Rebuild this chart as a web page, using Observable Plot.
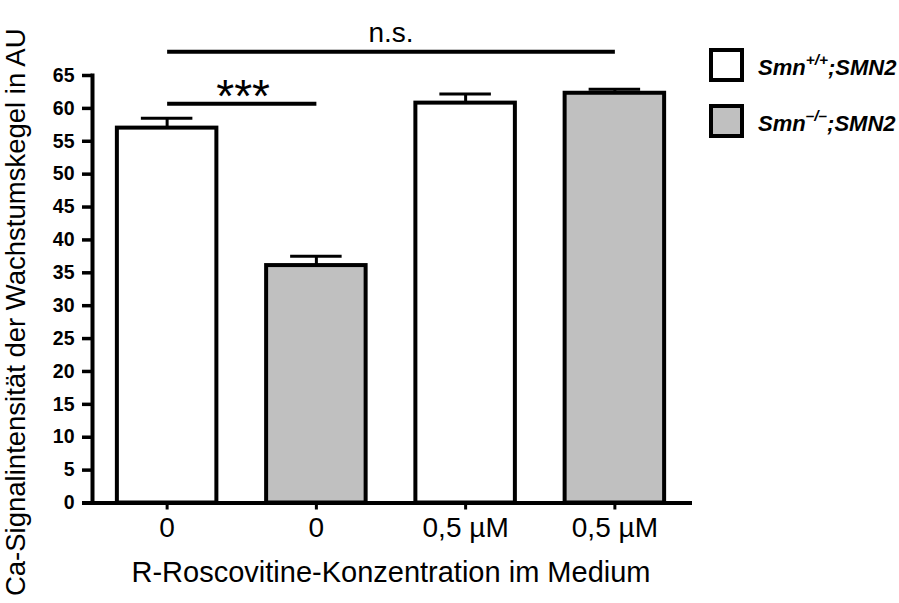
<!DOCTYPE html>
<html>
<head>
<meta charset="utf-8">
<script src="https://cdn.jsdelivr.net/npm/d3@7"></script>
<script src="https://cdn.jsdelivr.net/npm/@observablehq/plot@0.6"></script>
<style>
  body { margin: 0; background: #fff; }
  #chart { position: relative; width: 899px; height: 603px; font-family: "Liberation Sans", Arial, sans-serif; }
  #chart svg { position: absolute; left: 0; top: 0; }
  .legend-swatch { position: absolute; box-sizing: border-box; width: 35px; height: 34px; border: 4px solid #000; }
  .legend-text { position: absolute; font-size: 22px; font-weight: bold; font-style: italic; line-height: 22px; white-space: nowrap; color: #000; }
  .legend-text sup { font-size: 0.7em; position: relative; top: -0.1em; vertical-align: super; line-height: 0; }
</style>
</head>
<body>
<div id="chart"></div>
<script>
// Groups: genotype x R-Roscovitine dose
const groups = ["wt-0", "ko-0", "wt-0.5", "ko-0.5"];
const doseLabels = ["0", "0", "0,5 µM", "0,5 µM"];
const genotypeOf = ["wt", "ko", "wt", "ko"];
const means = [57.0, 36.1, 60.8, 62.3];
const sem = [1.5, 1.4, 1.4, 0.6];

// Genotype legend
const genotypes = ["wt", "ko"];
const genotypeSup = ["+/+", "–/–"];
const genotypeFill = ["#ffffff", "#c0c0c0"];

// Significance brackets
const sigFrom = ["wt-0", "wt-0"];
const sigTo = ["ko-0", "ko-0.5"];
const sigY = [60.7, 68.6];
const sigLabel = ["***", "n.s."];

const yTicks = d3.range(0, 66, 5);

const data = groups.map((g, i) => ({
  group: g,
  genotype: genotypeOf[i],
  mean: means[i],
  upper: means[i] + sem[i]
}));
const sig = sigFrom.map((f, i) => ({from: f, to: sigTo[i], y: sigY[i], label: sigLabel[i]}));
const fillOf = new Map(genotypes.map((g, i) => [g, genotypeFill[i]]));

const chart = Plot.plot({
  width: 899,
  height: 603,
  marginLeft: 92,
  marginRight: 210,
  marginTop: 75,
  marginBottom: 100.5,
  style: {fontFamily: "'Liberation Sans', Arial, sans-serif", color: "#000", background: "#fff"},
  x: {domain: groups, paddingInner: 1 / 3, paddingOuter: 1 / 6, round: false, label: null},
  y: {domain: [0, 65], label: null},
  marks: [
    Plot.barY(data, {x: "group", y: "mean", fill: d => fillOf.get(d.genotype), stroke: "#000", strokeWidth: 4}),
    // error bars (mean + SEM)
    Plot.ruleX(data, {x: "group", y1: "mean", y2: "upper", stroke: "#000", strokeWidth: 3}),
    Plot.tickY(data, {x: "group", y: "upper", stroke: "#000", strokeWidth: 3, insetLeft: 24, insetRight: 24}),
    // axes
    Plot.axisY({ticks: yTicks, tickSize: 10, tickPadding: 8, fontSize: 19.5, fontWeight: "bold", strokeWidth: 3.5, label: null}),
    Plot.axisX({tickSize: 7, tickPadding: 7, fontSize: 28, strokeWidth: 3, label: null,
      tickFormat: g => doseLabels[groups.indexOf(g)]}),
    Plot.frame({anchor: "left", stroke: "#000", strokeWidth: 4}),
    Plot.ruleY([0], {stroke: "#000", strokeWidth: 4, insetLeft: -10, insetRight: -3}),
    // significance brackets
    Plot.link(sig, {x1: "from", x2: "to", y1: "y", y2: "y", stroke: "#000", strokeWidth: 4}),
    Plot.text(sig.filter(d => d.label === "***"), {x: "from", y: "y", text: "label", dx: 76, dy: 8, lineAnchor: "bottom", fontSize: 46}),
    Plot.text(sig.filter(d => d.label === "n.s."), {y: "y", text: "label", dy: -10, lineAnchor: "bottom", fontSize: 28}),
    // axis titles
    Plot.text(["R-Roscovitine-Konzentration im Medium"], {frameAnchor: "bottom", textAnchor: "middle", dy: 78.5, lineAnchor: "bottom", fontSize: 29}),
    Plot.text(["Ca-Signalintensität der Wachstumskegel in AU"], {frameAnchor: "left", textAnchor: "middle", rotate: -90, dx: -68, dy: 23, lineAnchor: "bottom", fontSize: 27.5})
  ]
});

const root = document.getElementById("chart");
root.appendChild(chart);

// Legend beside the plot
const legendTop = [48, 104];
genotypes.forEach((g, i) => {
  const sw = document.createElement("div");
  sw.className = "legend-swatch";
  sw.style.left = "709px";
  sw.style.top = legendTop[i] + "px";
  sw.style.background = genotypeFill[i];
  root.appendChild(sw);
  const t = document.createElement("div");
  t.className = "legend-text";
  t.style.left = "758px";
  t.style.top = (legendTop[i] + 9) + "px";
  t.innerHTML = "Smn<sup>" + genotypeSup[i] + "</sup>;SMN2";
  root.appendChild(t);
});
</script>
</body>
</html>
